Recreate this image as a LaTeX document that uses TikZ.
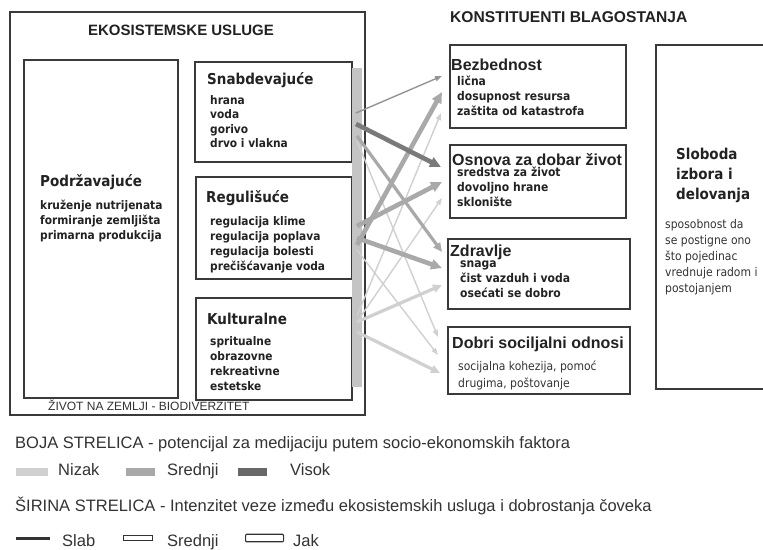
\documentclass[tikz,border=0pt]{standalone}
\usepackage{fontspec}
\setmainfont{Liberation Sans}
\newfontfamily\tah[FakeStretch=0.9]{DejaVu Sans}
\usetikzlibrary{arrows.meta}

\definecolor{boxc}{HTML}{3A3A3A}
\definecolor{txt}{HTML}{222222}
\definecolor{txtl}{HTML}{333333}
\definecolor{barc}{HTML}{C4C4C4}
\definecolor{hic}{HTML}{7A7A7A}
\definecolor{midc}{HTML}{A9A9A9}
\definecolor{loc}{HTML}{D0D0D0}
\definecolor{midthin}{HTML}{959595}

\tikzset{
  frame/.style={draw=boxc, line width=1.6pt, inner sep=0pt, outer sep=0pt, anchor=north west},
  bar/.style={fill=barc, draw=none, inner sep=0pt, outer sep=0pt, anchor=north west},
  title/.style={font=\bfseries\fontsize{15}{18}\selectfont, text=txt, inner sep=0pt},
  lhead/.style={font=\tah\bfseries\fontsize{15}{18}\selectfont, text=txt, anchor=base west, inner sep=0pt},
  rhead/.style={font=\bfseries\fontsize{16}{18}\selectfont, text=txt, anchor=base west, inner sep=0pt},
  item/.style={font=\tah\bfseries\fontsize{11.8}{14}\selectfont, text=txt, anchor=base west, inner sep=0pt},
  ritem/.style={font=\tah\bfseries\fontsize{12}{14}\selectfont, text=txt, anchor=base west, inner sep=0pt},
  plain/.style={font=\tah\fontsize{12}{14}\selectfont, text=txtl, anchor=base west, inner sep=0pt},
  leg/.style={font=\fontsize{16.5}{18}\selectfont, text=txtl, anchor=base west, inner sep=0pt},
  swatch/.style={draw=none, inner sep=0pt, anchor=north west, minimum height=8pt},
  slab/.style={line width=1.4pt, -{Triangle[length=7pt,width=5pt]}},
  sred/.style={line width=3.2pt, -{Triangle[length=9pt,width=8pt]}},
  jak/.style={line width=4.6pt, -{Triangle[length=11pt,width=10pt]}},
  wsym/.style={draw=txtl, line width=1.2pt, fill=white, inner sep=0pt, anchor=west},
}

\begin{document}
\begin{tikzpicture}[x=1pt,y=-1pt]
\useasboundingbox (0,0) rectangle (763,549);
\fill[white] (0,0) rectangle (763,549);

% ---------- left: ecosystem services ----------
\node[frame, minimum width=355pt, minimum height=403pt] (outer) at (10,12) {};
\node[title, anchor=base] (ekotitle) at (181,35) {EKOSISTEMSKE USLUGE};

\node[frame, minimum width=154pt, minimum height=338pt] (podr) at (24,60) {};
\node[frame, minimum width=157pt, minimum height=100pt] (snab) at (195,62) {};
\node[frame, minimum width=156pt, minimum height=102pt] (reg) at (196,177) {};
\node[frame, minimum width=156pt, minimum height=102pt] (kult) at (196,298) {};

\node[lhead] (podrh) at (40,186) {Podržavajuće};
\foreach \t [count=\i] in {kruženje nutrijenata,formiranje zemljišta,primarna produkcija}
  \node[item] (podr\i) at (40,{209+15.2*(\i-1)}) {\t};

\node[lhead] (snabh) at (207,84) {Snabdevajuće};
\foreach \t [count=\i] in {hrana,voda,gorivo,drvo i vlakna}
  \node[item] (snab\i) at (210,{104+14.6*(\i-1)}) {\t};

\node[lhead] (regh) at (206,202) {Regulišuće};
\foreach \t [count=\i] in {regulacija klime,regulacija poplava,regulacija bolesti,prečišćavanje voda}
  \node[item] (reg\i) at (210,{225+15*(\i-1)}) {\t};

\node[lhead] (kulth) at (207,324) {Kulturalne};
\foreach \t [count=\i] in {spritualne,obrazovne,rekreativne,estetske}
  \node[item] (kult\i) at (210,{345+15*(\i-1)}) {\t};

\node[font=\fontsize{12}{14}\selectfont, text=txtl, anchor=base west, inner sep=0pt] (zivot) at (48,410.5) {ŽIVOT NA ZEMLJI - BIODIVERZITET};

\node[bar, minimum width=10pt, minimum height=319pt] (gbar) at (352,68) {};

% ---------- right: constituents of well-being ----------
\node[title, font=\bfseries\fontsize{15.6}{18}\selectfont, anchor=base west] (kontitle) at (450,22) {KONSTITUENTI BLAGOSTANJA};

\node[frame, minimum width=176pt, minimum height=83pt] (bez) at (450,45) {};
\node[frame, minimum width=176pt, minimum height=73pt] (osn) at (450,145) {};
\node[frame, minimum width=182pt, minimum height=70pt] (zdr) at (448,239) {};
\node[frame, minimum width=182pt, minimum height=67pt] (dob) at (448,327) {};
\node[frame, minimum width=114pt, minimum height=344pt] (slob) at (656,45) {};

\node[rhead] (bezh) at (451,70) {Bezbednost};
\foreach \t [count=\i] in {lična,dosupnost resursa,zaštita od katastrofa}
  \node[ritem] (bez\i) at (457,{85+15*(\i-1)}) {\t};

\node[rhead] (osnh) at (452,165) {Osnova za dobar život};
\foreach \t [count=\i] in {sredstva za život,dovoljno hrane,sklonište}
  \node[ritem] (osn\i) at (457,{176+15*(\i-1)}) {\t};

\node[rhead] (zdrh) at (450,256) {Zdravlje};
\foreach \t [count=\i] in {snaga,čist vazduh i voda,osećati se dobro}
  \node[ritem] (zdr\i) at (460,{267+15*(\i-1)}) {\t};

\node[rhead] (dobh) at (452,348) {Dobri sociljalni odnosi};
\node[plain] (dob1) at (458,370) {socijalna kohezija, pomoć};
\node[plain] (dob2) at (458,387) {drugima, poštovanje};

\foreach \t [count=\i] in {Sloboda,izbora i,delovanja}
  \node[lhead] (slobh\i) at (676,{159+20*(\i-1)}) {\t};
\foreach \t [count=\i] in {sposobnost da,se postigne ono,što pojedinac,vrednuje radom i,postojanjem}
  \node[plain] (slob\i) at (665,{228+16*(\i-1)}) {\t};

% ---------- arrows ----------
\coordinate (s1) at (356,113);  \coordinate (t1) at (442,76);
\coordinate (s2) at (356,124);  \coordinate (t2) at (441,167);
\coordinate (s3) at (357,136);  \coordinate (t3) at (442,252);
\coordinate (s4) at (357,141);  \coordinate (t4) at (438,337);
\coordinate (s5) at (357,245);  \coordinate (t5) at (442,92);
\coordinate (s6) at (357,226);  \coordinate (t6) at (442,182);
\coordinate (s7) at (357,238);  \coordinate (t7) at (442,268);
\coordinate (s8) at (357,250);  \coordinate (t8) at (438,355);
\coordinate (s9) at (357,316);  \coordinate (t9) at (441,113);
\coordinate (s10) at (357,322); \coordinate (t10) at (442,198);
\coordinate (s11) at (357,322); \coordinate (t11) at (442,285);
\coordinate (s12) at (357,332); \coordinate (t12) at (440,373);

\draw[slab, draw=loc] (s4) -- (t4);
\draw[slab, draw=loc] (s8) -- (t8);
\draw[slab, draw=loc] (s9) -- (t9);
\draw[slab, draw=loc] (s10) -- (t10);
\draw[sred, draw=loc] (s11) -- (t11);
\draw[sred, draw=loc] (s12) -- (t12);
\draw[jak, draw=midc] (s5) -- (t5);
\draw[jak, draw=midc] (s6) -- (t6);
\draw[jak, draw=midc] (s7) -- (t7);
\draw[sred, draw=midc] (s3) -- (t3);
\draw[slab, draw=midthin] (s1) -- (t1);
\draw[jak, draw=hic] (s2) -- (t2);

% ---------- legend ----------
\node[leg] (boja) at (15,448) {BOJA STRELICA - potencijal za medijaciju putem socio-ekonomskih faktora};
\node[swatch, fill=loc, minimum width=32pt] (swlo) at (16,468) {};
\node[leg] (nizak) at (58,475.5) {Nizak};
\node[swatch, fill=midc, minimum width=29pt] (swmid) at (126,468) {};
\node[leg] (srednji1) at (167,475.5) {Srednji};
\node[swatch, fill=hic!85!black, minimum width=29pt] (swhi) at (238,468) {};
\node[leg] (visok) at (290,475.5) {Visok};

\node[leg] (sirina) at (15,511) {ŠIRINA STRELICA - Intenzitet veze između ekosistemskih usluga i dobrostanja čoveka};

\coordinate (slabA) at (16,538); \coordinate (slabB) at (50,538);
\draw[line width=3pt, draw=txtl] (slabA) -- (slabB);
\node[leg] (slabt) at (62,546) {Slab};
\node[wsym, minimum width=29pt, minimum height=5pt] (symsred) at (123,538) {};
\node[leg] (srednji2) at (167,546) {Srednji};
\node[wsym, minimum width=38pt, minimum height=7.5pt, rounded corners=1pt] (symjak) at (245,538) {};
\node[leg] (jakt) at (293,546) {Jak};
\end{tikzpicture}
\end{document}
